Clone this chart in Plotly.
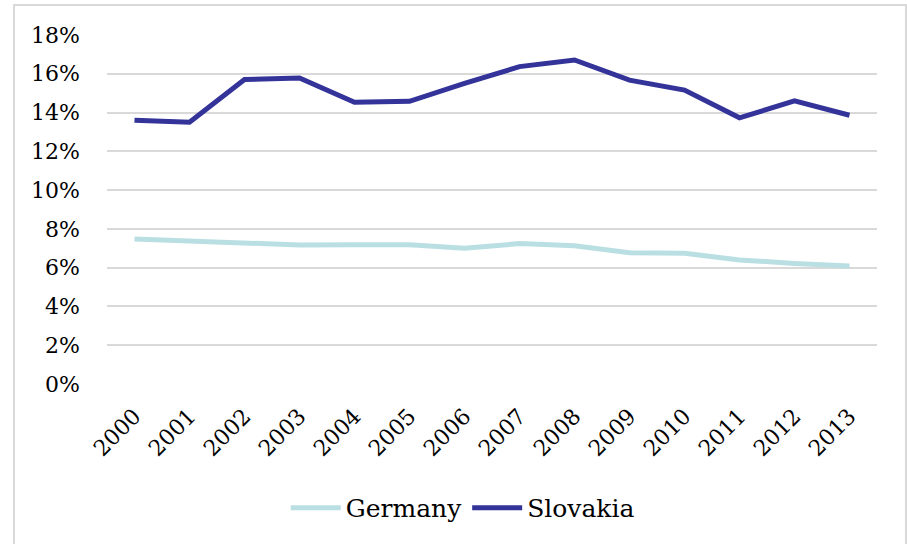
import plotly.graph_objects as go

years = ["2000", "2001", "2002", "2003", "2004", "2005", "2006",
         "2007", "2008", "2009", "2010", "2011", "2012", "2013"]
germany = [7.48, 7.37, 7.32, 7.17, 7.18, 7.18, 7.00, 7.24, 7.13, 6.77, 6.74, 6.40, 6.22, 6.09]
slovakia = [13.6, 13.5, 15.7, 15.78, 14.53, 14.58, 15.5, 16.37, 16.71, 15.67, 15.16, 13.73, 14.6, 13.86]
y_ticks = [0, 2, 4, 6, 8, 10, 12, 14, 16, 18]

FONT = "DejaVu Serif"

fig = go.Figure()
fig.add_trace(go.Scatter(x=years, y=germany, name="Germany", mode="lines",
                         line=dict(color="#BADFE3", width=5)))
fig.add_trace(go.Scatter(x=years, y=slovakia, name="Slovakia", mode="lines",
                         line=dict(color="#333399", width=5)))

fig.update_layout(
    width=907, height=544,
    margin=dict(l=107, r=30, t=35, b=160),
    paper_bgcolor="white", plot_bgcolor="white",
    font=dict(family=FONT, size=22, color="black"),
    showlegend=True,
    legend=dict(orientation="h", x=0.462, xanchor="center", y=-0.355, yanchor="middle",
                itemwidth=50,
                font=dict(family=FONT, size=25, color="black"), bgcolor="rgba(0,0,0,0)"),
    xaxis=dict(type="category", range=[-0.5, 13.5], showgrid=False, zeroline=False,
               showline=False, tickangle=-45, ticks="", ticklabelstandoff=14,
               tickfont=dict(family=FONT, size=22)),
    yaxis=dict(range=[0, 18], tickvals=y_ticks, ticktext=[f"{v}%" for v in y_ticks],
               showgrid=True, gridcolor="#d9d9d9", gridwidth=1.5, zeroline=False,
               showline=False, ticks="", ticklabelstandoff=26,
               tickfont=dict(family=FONT, size=22)),
    shapes=[dict(type="rect", xref="paper", yref="paper",
                 x0=-0.1208, x1=1.0377, y0=-0.52, y1=1.086,
                 line=dict(color="#d9d9d9", width=2), fillcolor="rgba(0,0,0,0)",
                 layer="below")],
)

fig.write_html("out.html", config={"displayModeBar": False},
               post_script="document.body.style.margin='0';document.body.style.overflow='hidden';")
